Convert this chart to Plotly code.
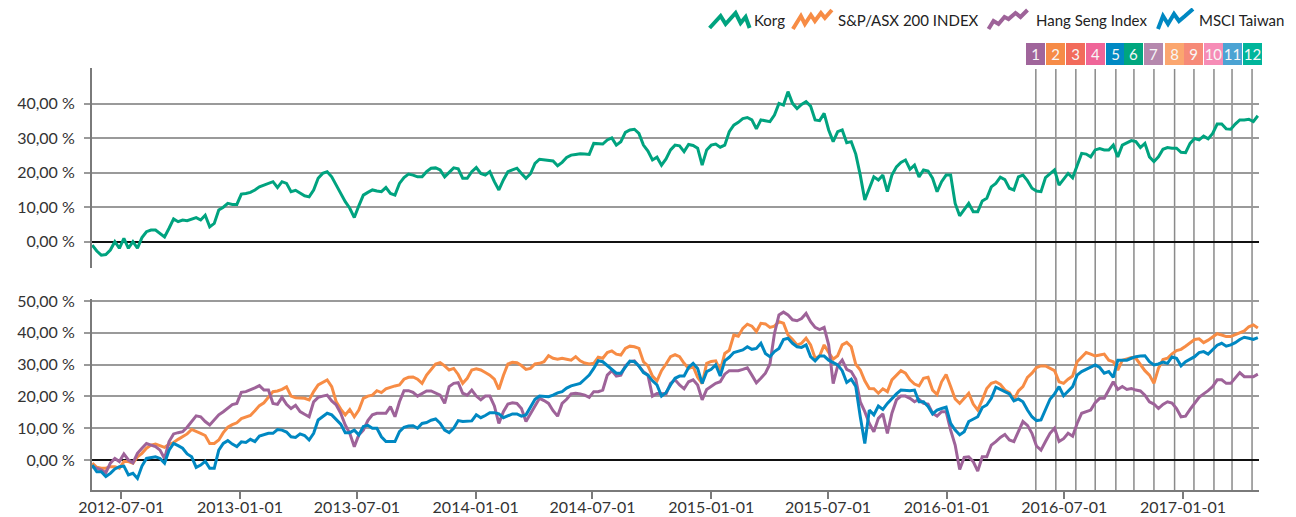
import pandas as pd
import plotly.graph_objects as go

# ---------------- data (weekly readings, % change) ----------------
START = "2012-05-17"

korg = [
    -1.0, -2.7, -3.9, -3.7, -2.4, 0.0, -1.9, 1.0, -1.9, 0.0,
    -1.9, 1.2, 2.9, 3.4, 3.4, 2.4, 1.4, 3.9, 6.6, 5.8,
    6.3, 6.1, 6.6, 7.0, 6.3, 7.7, 4.3, 5.3, 9.2, 10.0,
    11.1, 10.8, 10.8, 13.8, 14.0, 14.3, 15.0, 15.9, 16.4, 16.9,
    17.4, 15.7, 17.4, 16.9, 14.5, 14.9, 14.0, 13.3, 13.0, 15.0,
    18.4, 19.8, 20.3, 18.8, 16.4, 14.0, 11.6, 9.7, 7.0, 10.4,
    13.5, 14.3, 15.0, 14.7, 14.5, 15.7, 14.0, 13.5, 16.9, 18.6,
    19.6, 19.3, 18.8, 18.8, 20.3, 21.3, 21.4, 20.8, 18.8, 20.1,
    21.4, 21.1, 18.4, 18.4, 20.3, 21.5, 19.8, 19.3, 20.3, 17.4,
    15.0, 17.9, 20.3, 20.8, 21.3, 19.8, 18.4, 19.7, 22.7, 23.9,
    23.7, 23.4, 23.4, 22.0, 23.0, 24.4, 25.1, 25.3, 25.5, 25.4,
    25.3, 28.5, 28.5, 28.3, 29.5, 30.1, 28.0, 29.0, 31.7, 32.4,
    32.6, 31.4, 28.0, 26.3, 23.7, 24.5, 22.2, 24.0, 26.6, 28.0,
    27.8, 26.1, 28.2, 27.9, 27.1, 22.2, 26.6, 28.0, 28.3, 27.4,
    28.0, 31.9, 33.8, 34.6, 35.7, 36.0, 35.3, 32.7, 35.3, 35.1,
    34.8, 36.7, 40.1, 39.6, 43.5, 40.1, 38.6, 39.8, 40.6, 39.3,
    35.3, 35.1, 37.2, 32.4, 29.0, 31.9, 32.4, 28.7, 29.0, 25.4,
    19.3, 12.1, 15.5, 18.8, 17.9, 19.3, 14.5, 19.3, 21.7, 23.0,
    23.7, 21.0, 22.2, 18.8, 20.8, 20.5, 18.4, 14.5, 17.4, 19.3,
    19.3, 11.1, 7.5, 9.2, 11.1, 8.7, 8.7, 11.8, 12.6, 15.9,
    16.9, 18.7, 18.0, 15.5, 15.0, 18.8, 19.3, 17.7, 15.5, 14.7,
    14.5, 18.6, 19.8, 20.8, 16.4, 18.1, 19.8, 18.5, 22.2, 25.6,
    25.4, 24.6, 26.6, 27.0, 26.6, 26.6, 28.0, 24.6, 28.0, 28.7,
    29.3, 29.0, 27.3, 28.5, 24.6, 23.2, 24.6, 26.8, 27.3, 27.1,
    27.1, 25.9, 25.8, 28.5, 29.9, 29.5, 30.6, 29.8, 31.4, 34.1,
    34.1, 32.7, 32.6, 34.1, 35.3, 35.3, 35.5, 34.8,
    36.5,
]

sp_asx = [
    -1.0, -2.3, -2.6, -2.6, -2.1, -2.1, -2.6, -0.5, -0.5, -1.0,
    1.0, 2.1, 3.7, 4.7, 5.0, 4.5, 4.0, 4.9, 5.5, 6.5,
    7.3, 8.2, 9.6, 9.1, 8.4, 7.7, 5.2, 5.2, 6.3, 8.6,
    10.3, 11.1, 11.7, 13.0, 13.4, 14.0, 15.5, 17.1, 18.0, 19.9,
    21.5, 21.7, 22.2, 23.0, 20.1, 19.6, 19.4, 19.4, 18.9, 21.5,
    23.6, 24.5, 25.2, 23.1, 18.3, 16.0, 14.2, 15.9, 13.6, 15.7,
    19.4, 20.1, 20.4, 21.8, 21.2, 22.4, 22.9, 23.3, 23.6, 25.4,
    26.0, 26.1, 25.4, 24.1, 26.7, 28.6, 30.2, 30.6, 29.6, 28.3,
    28.8, 26.9, 24.1, 25.7, 28.3, 28.7, 28.3, 27.5, 26.7, 25.4,
    22.2, 26.6, 30.2, 30.7, 30.6, 29.7, 28.5, 28.8, 30.2, 30.4,
    30.9, 32.8, 32.0, 31.7, 32.0, 31.7, 31.4, 32.5, 31.2, 30.5,
    30.2, 30.4, 32.3, 32.0, 33.8, 34.3, 33.3, 33.0, 35.1, 35.8,
    35.6, 35.1, 30.9, 29.6, 26.4, 24.9, 28.1, 30.2, 32.5, 33.1,
    32.5, 30.4, 28.8, 29.4, 26.0, 24.0, 30.4, 31.0, 31.2, 28.0,
    33.5, 34.5, 39.3, 38.9, 41.4, 42.7, 42.1, 40.4, 43.0, 42.8,
    41.7, 42.1, 43.5, 43.0, 39.3, 37.9, 36.2, 36.7, 38.3, 36.2,
    32.0, 32.7, 36.2, 33.8, 31.7, 32.8, 36.2, 37.0, 35.6, 30.1,
    28.3, 24.9, 22.5, 22.4, 21.0, 22.4, 21.5, 25.2, 26.7, 28.1,
    27.3, 25.2, 23.9, 23.3, 25.7, 26.0, 22.0, 20.6, 24.6, 26.9,
    23.1, 19.2, 17.8, 19.4, 21.0, 17.6, 15.7, 18.9, 22.5, 24.1,
    24.6, 23.8, 22.0, 21.2, 18.9, 21.7, 23.1, 26.0, 27.3, 29.1,
    29.6, 29.6, 28.8, 28.1, 24.6, 24.1, 25.4, 26.4, 30.9, 32.3,
    33.8, 33.3, 32.7, 33.0, 33.3, 31.4, 30.9, 28.3, 31.4, 31.8,
    32.2, 32.0, 30.2, 28.1, 26.7, 24.1, 28.8, 31.6, 32.0, 33.4,
    34.4, 34.8, 35.8, 37.0, 37.9, 38.1, 36.9, 37.7, 38.8, 39.7,
    39.3, 38.8, 38.8, 39.4, 40.0, 40.6, 41.9, 42.5,
    41.5,
]

hang_seng = [
    -2.1, -2.6, -3.1, -4.0, -1.0, 0.5, -0.5, 1.9, 0.0, -0.9,
    2.1, 3.7, 5.2, 4.7, 4.2, 3.1, 0.5, 5.8, 8.2, 8.6,
    8.9, 10.3, 12.1, 13.9, 13.6, 12.1, 11.0, 12.6, 14.2, 15.2,
    16.2, 17.4, 17.8, 21.3, 21.5, 22.0, 22.7, 23.4, 22.0, 22.0,
    17.8, 17.5, 19.7, 17.5, 16.2, 17.2, 15.2, 14.4, 13.6, 18.3,
    19.7, 20.1, 20.4, 18.6, 17.3, 14.7, 11.0, 8.4, 4.2, 7.9,
    9.4, 12.4, 14.2, 14.7, 14.7, 14.7, 16.8, 13.6, 18.3, 21.8,
    21.8, 21.3, 20.1, 20.8, 21.7, 21.7, 21.0, 20.4, 17.8, 23.1,
    24.1, 24.3, 21.0, 20.4, 22.0, 20.1, 18.9, 20.1, 20.1, 17.0,
    11.5, 15.2, 17.6, 18.0, 17.8, 16.2, 12.1, 14.5, 17.3, 19.4,
    18.7, 17.8, 15.5, 13.8, 17.8, 19.1, 20.8, 21.0, 20.8, 20.4,
    19.7, 21.5, 21.5, 22.0, 26.7, 28.1, 26.4, 26.7, 29.6, 30.9,
    31.2, 29.6, 27.8, 26.7, 20.1, 20.9, 20.8, 20.8, 24.1, 25.2,
    23.6, 22.4, 24.6, 25.2, 23.6, 18.9, 22.2, 23.2, 24.1, 24.6,
    27.0, 28.1, 28.1, 28.1, 28.5, 29.0, 26.7, 24.3, 25.7, 27.3,
    30.2, 39.8, 45.6, 46.5, 45.6, 44.1, 43.8, 44.5, 46.1, 43.5,
    41.7, 41.0, 41.7, 36.2, 24.0, 29.6, 31.4, 28.5, 27.8, 25.4,
    18.3, 15.2, 11.5, 8.9, 13.1, 14.5, 8.4, 14.7, 18.9, 20.1,
    20.1, 19.4, 18.3, 19.1, 17.8, 17.6, 14.7, 13.8, 15.2, 15.2,
    9.4, 4.7, -3.0, 0.8, 1.0, -0.5, -3.5, 1.0, 1.0, 4.7,
    5.8, 7.1, 8.0, 6.3, 5.8, 9.2, 12.1, 10.9, 8.4, 4.4,
    3.1, 5.8, 8.4, 10.0, 5.8, 6.7, 8.4, 7.5, 11.5, 14.7,
    15.2, 15.7, 18.0, 19.4, 19.4, 21.8, 24.6, 22.2, 23.1, 22.2,
    22.5, 22.0, 21.7, 20.4, 18.3, 17.6, 16.2, 17.5, 18.3, 17.9,
    16.2, 13.6, 13.8, 15.9, 17.8, 19.7, 20.8, 21.8, 23.1, 25.2,
    25.2, 24.1, 24.1, 25.7, 27.5, 26.2, 26.2, 26.2,
    27.0,
]

msci_taiwan = [
    -1.6, -3.7, -3.7, -5.2, -4.2, -2.8, -2.1, -1.9, -4.7, -4.2,
    -5.8, -1.9, 0.5, 0.8, 1.0, 0.5, -1.0, 3.1, 5.2, 4.5,
    3.7, 1.9, 1.0, -2.3, -1.6, -0.4, -2.6, -2.6, 3.1, 5.2,
    6.1, 5.0, 4.2, 5.7, 5.5, 6.5, 5.8, 7.5, 7.9, 8.4,
    8.4, 9.6, 9.4, 8.8, 7.3, 7.1, 8.2, 7.7, 6.3, 8.4,
    12.6, 13.6, 14.7, 14.2, 12.8, 11.3, 8.6, 8.6, 9.4, 7.9,
    10.5, 10.9, 10.0, 10.0, 7.3, 5.8, 5.8, 5.8, 8.9, 10.3,
    10.7, 10.8, 10.0, 11.5, 11.8, 12.5, 12.9, 11.6, 9.4, 8.6,
    10.0, 12.4, 12.1, 12.1, 12.3, 14.2, 13.3, 14.0, 14.9, 14.9,
    14.5, 13.3, 13.8, 14.5, 14.5, 13.8, 14.2, 16.6, 19.1, 20.1,
    20.1, 19.9, 20.4, 21.1, 21.5, 22.6, 23.3, 23.7, 24.1, 25.4,
    26.7, 28.8, 31.2, 30.9, 29.6, 28.6, 27.3, 27.3, 29.4, 31.1,
    30.9, 29.6, 27.5, 26.7, 24.9, 23.6, 20.1, 21.2, 23.6, 25.7,
    26.4, 26.4, 29.1, 30.4, 28.8, 24.1, 27.8, 28.5, 29.9, 26.4,
    31.2, 32.3, 33.8, 34.1, 34.6, 35.6, 34.8, 35.1, 36.7, 33.5,
    32.5, 34.1, 35.1, 37.9, 38.3, 36.7, 35.6, 35.4, 36.2, 32.5,
    31.2, 32.7, 32.7, 31.4, 30.6, 29.9, 28.1, 24.4, 25.4, 23.1,
    13.6, 5.2, 15.7, 14.2, 17.0, 15.9, 17.8, 19.4, 20.8, 22.0,
    21.8, 21.8, 22.0, 18.3, 18.3, 16.8, 14.5, 15.7, 16.2, 16.6,
    11.5, 9.4, 7.9, 8.9, 12.1, 12.9, 13.6, 16.5, 17.3, 19.4,
    22.9, 22.2, 21.5, 20.8, 18.6, 19.2, 18.3, 15.7, 13.6, 12.4,
    12.6, 16.0, 19.1, 20.8, 23.1, 20.2, 21.5, 23.1, 26.7, 27.8,
    28.5, 29.1, 29.9, 29.1, 27.3, 27.8, 26.0, 31.4, 31.4, 31.4,
    32.0, 32.5, 32.7, 32.8, 30.9, 29.9, 30.2, 30.8, 30.4, 32.4,
    32.0, 29.6, 30.9, 31.8, 32.5, 33.8, 34.1, 33.3, 34.6, 36.1,
    36.7, 35.8, 36.2, 36.9, 37.9, 38.6, 38.3, 37.9,
    38.5,
]

series_names = ["Korg", "S&P/ASX 200 INDEX", "Hang Seng Index", "MSCI Taiwan"]
series_colors = ["#00a37f", "#f78c45", "#9e6399", "#0088c2"]

event_dates = [
    "2016-05-18", "2016-06-18", "2016-07-19", "2016-08-18", "2016-09-19", "2016-10-17",
    "2016-11-17", "2016-12-19", "2017-01-18", "2017-02-18", "2017-03-18", "2017-04-18",
]
event_labels = ["1", "2", "3", "4", "5", "6", "7", "8", "9", "10", "11", "12"]
event_colors = [
    "#a0659b", "#f68b47", "#f26b5b", "#ef6598", "#0089c3", "#00a67e",
    "#b588ad", "#fba66f", "#f68a78", "#f68cb6", "#4ba3d3", "#00b59b",
]

top_ticks = [0, 10, 20, 30, 40]
bottom_ticks = [0, 10, 20, 30, 40, 50]
x_ticks = ["2012-07-01", "2013-01-01", "2013-07-01", "2014-01-01", "2014-07-01",
           "2015-01-01", "2015-07-01", "2016-01-01", "2016-07-01", "2017-01-01"]


def pct_label(v):
    return f"{v:.2f}".replace(".", ",") + " %"


def weekly(vals):
    return pd.date_range(START, periods=len(vals), freq="7D")


# ---------------- geometry (page has an 8px body margin) ----------------
OFF = 8
W, H = 1296 - OFF, 517 - OFF
L, R, T, B = 92 - OFF, 37, 68 - OFF, 27
PW, PH = W - L - R, H - T - B


def px(x_screen):
    return (x_screen - OFF - L) / PW


def py(y_screen):
    return (H - B - (y_screen - OFF)) / PH


FONT = "Lato"
GRID = "#9a9a9a"
AXIS = "#7a7a7a"

fig = go.Figure()

fig.add_trace(go.Scatter(x=weekly(korg), y=korg, name=series_names[0], mode="lines",
                         line=dict(color=series_colors[0], width=3),
                         xaxis="x", yaxis="y", showlegend=False))
for name, vals, col in zip(series_names[1:], [sp_asx, hang_seng, msci_taiwan], series_colors[1:]):
    fig.add_trace(go.Scatter(x=weekly(vals), y=vals, name=name, mode="lines",
                             line=dict(color=col, width=3),
                             xaxis="x2", yaxis="y2", showlegend=False))

x_range = ["2012-05-16 14:00", "2017-04-28 19:00"]

common_y = dict(
    showgrid=True, gridcolor=GRID, gridwidth=1.5,
    zeroline=True, zerolinecolor="#111111", zerolinewidth=2,
    showline=True, linecolor=AXIS, linewidth=2,
    ticks="outside", ticklen=6, tickcolor=GRID, tickwidth=1.5,
    tickfont=dict(size=16, color="#333333", family=FONT),
    ticklabelstandoff=6, automargin=False, fixedrange=True,
)

fig.update_layout(
    width=W, height=H, autosize=False,
    margin=dict(l=L, r=R, t=T, b=B),
    paper_bgcolor="white", plot_bgcolor="white",
    font=dict(family=FONT, color="#333333"),
    xaxis=dict(domain=[0, 1], anchor="y", range=x_range, type="date",
               showticklabels=False, showgrid=False, zeroline=False, showline=False,
               ticks="", matches="x2", automargin=False),
    xaxis2=dict(domain=[0, 1], anchor="y2", range=x_range, type="date",
                tickvals=x_ticks, ticktext=x_ticks,
                showgrid=False, zeroline=False,
                showline=True, linecolor=AXIS, linewidth=1.5,
                ticks="outside", ticklen=7, tickcolor=AXIS, tickwidth=1.5,
                tickfont=dict(size=16, color="#333333", family=FONT),
                ticklabelstandoff=-5, automargin=False),
    yaxis=dict(domain=[py(268), 1], range=[-7.62, 50.35],
               tickvals=top_ticks, ticktext=[pct_label(v) for v in top_ticks], **common_y),
    yaxis2=dict(domain=[0, py(299)], range=[-9.43, 50.63],
                tickvals=bottom_ticks, ticktext=[pct_label(v) for v in bottom_ticks], **common_y),
)

shapes = []
annotations = []

# event vertical lines and numbered boxes
for d, lab, col in zip(event_dates, event_labels, event_colors):
    shapes.append(dict(type="line", xref="x", yref="paper", x0=d, x1=d,
                       y0=0, y1=py(69), line=dict(color="#8a8a8a", width=1.5), layer="below"))
    annotations.append(dict(xref="x", yref="paper", x=d, y=py(54), text=lab,
                            showarrow=False, bgcolor=col, width=19, height=22,
                            borderpad=0, borderwidth=0, align="center", valign="middle",
                            xanchor="center", yanchor="middle",
                            font=dict(size=15, color="#f7f7f7", family=FONT)))

# custom legend (zig-zag glyphs + text)
legend_icons = [
    "M0,1 L11,13 L16,5 L26,16 L31,6 L36,12 L40,1",
    "M0,0 L8,13 L12,5 L18,14 L22,8 L28,16 L32,11 L39,19",
    "M0,0 L5,8 L10,5 L16,12 L20,10 L27,16 L32,12 L39,19",
    "M0,0 L5,13 L10,5 L16,15 L21,8 L27,13 L35,20",
]
legend_icon_x = [709.6, 792.9, 988.5, 1158.0]
legend_text_x = [752.3, 835.6, 1034.4, 1197.0]
for path, ix, tx, name, col in zip(legend_icons, legend_icon_x, legend_text_x, series_names, series_colors):
    shapes.append(dict(type="path", xref="paper", yref="paper",
                       xsizemode="pixel", ysizemode="pixel",
                       xanchor=px(ix), yanchor=py(29), path=path,
                       line=dict(color=col, width=4), fillcolor="rgba(0,0,0,0)"))
    annotations.append(dict(xref="paper", yref="paper", x=px(tx), y=py(20), text=name,
                            showarrow=False, xanchor="left", yanchor="middle",
                            font=dict(size=15, color="#222222", family=FONT)))

fig.update_layout(shapes=shapes, annotations=annotations)

fig.write_html("out.html")
